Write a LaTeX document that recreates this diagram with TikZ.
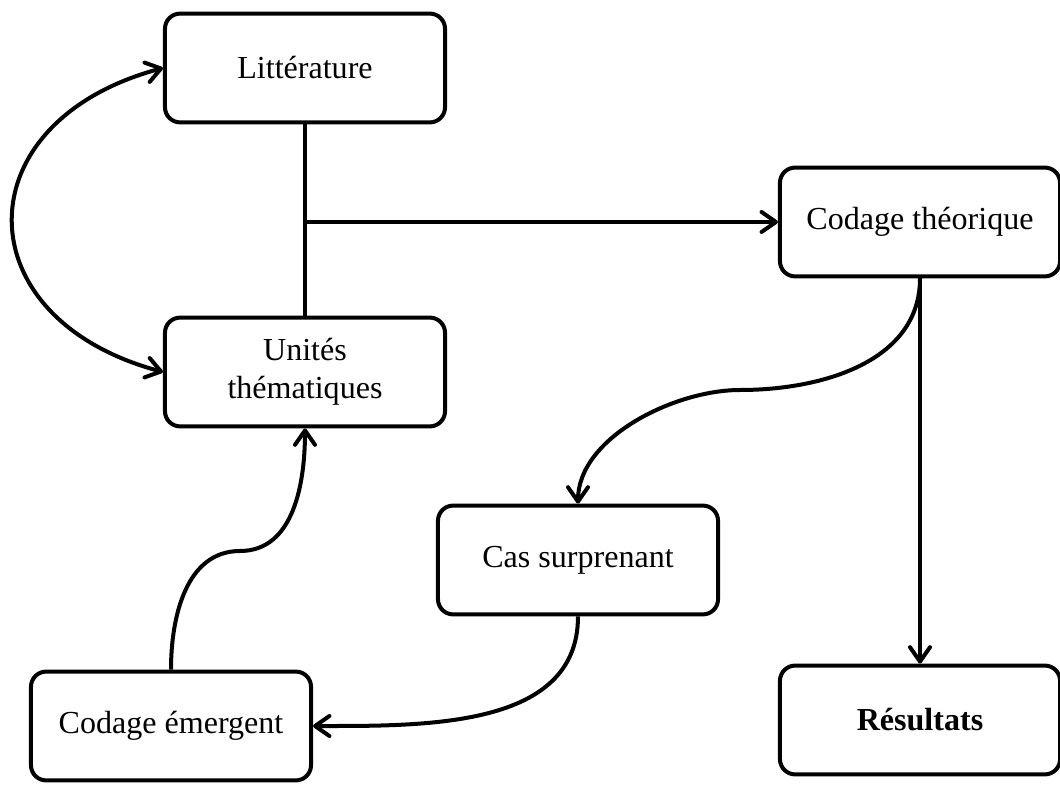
\documentclass[tikz,border=0pt]{standalone}
\usepackage{fontspec}
\setmainfont{Liberation Serif}
\usetikzlibrary{arrows.meta}

\begin{document}
\begin{tikzpicture}[x=0.025cm,y=0.025cm,
  >={Straight Barb[length=0.36cm,width=0.5cm,round]},
  box/.style={draw,line width=0.1cm,rounded corners=0.38cm,minimum width=7cm,minimum height=2.72cm,align=center,font=\fontsize{22.8}{27}\selectfont},
  link/.style={line width=0.1cm}]
\useasboundingbox (0,0) rectangle (1060,784);

\node[box] (lit) at (305,716) {Littérature};
\node[box] (unit) at (305,412) {Unités\\thématiques};
\node[box] (theo) at (920,562) {Codage théorique};
\node[box] (cas) at (578,224) {Cas surprenant};
\node[box] (emer) at (171,58) {Codage émergent};
\node[box] (res) at (920,64) {\textbf{Résultats}};

\coordinate (jn) at (lit.south |- theo.west);
\coordinate (bendtheo) at (740,394);
\coordinate (bendemer) at (240,233);

\draw[link] (lit) -- (unit);
\draw[link,->] (jn) -- (theo);
\draw[link,<->] (lit.west) to[out=195,in=165,looseness=1.75] (unit.west);
\draw[link,->] (theo) -- (res);
\draw[link,->] (theo.south) to[out=-90,in=0] (bendtheo) to[out=180,in=90,looseness=0.85] (cas.north);
\draw[link,->] (cas.south) to[out=-90,in=0] (emer.east);
\draw[link,->] (emer.north) to[out=90,in=180] (bendemer) to[out=0,in=-90] (unit.south);
\end{tikzpicture}
\end{document}
